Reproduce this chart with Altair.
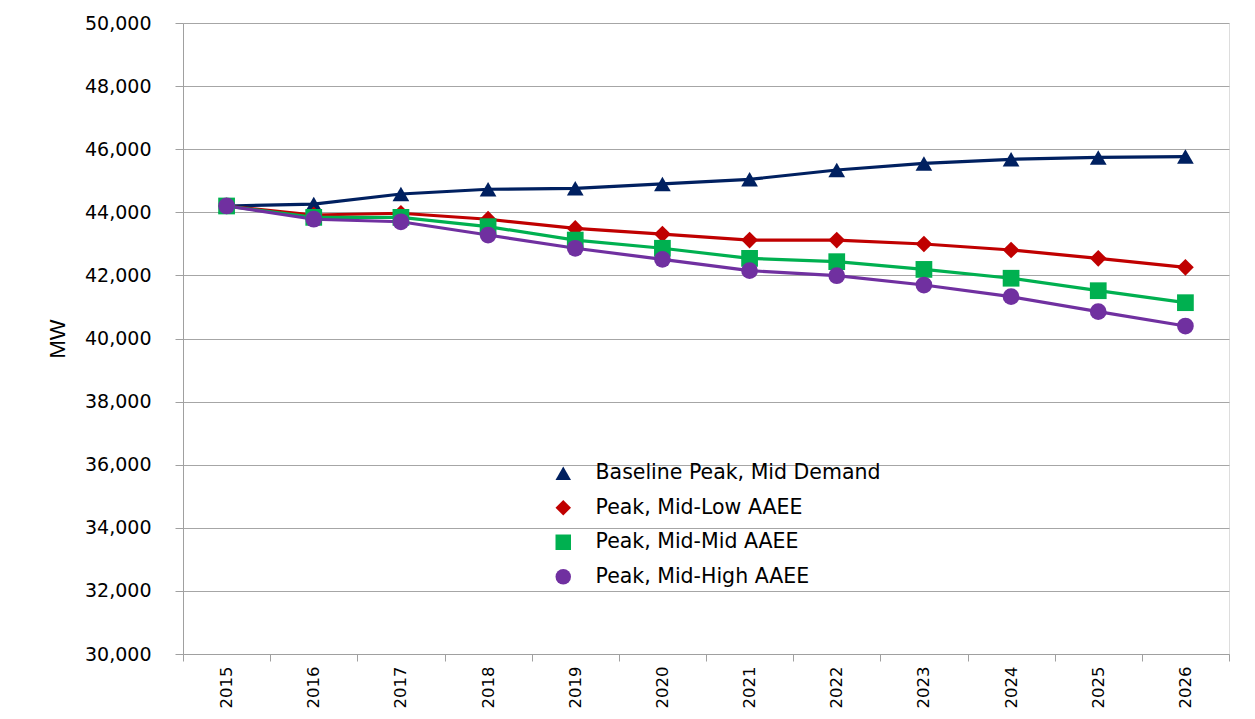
import altair as alt
import pandas as pd

years = [str(y) for y in range(2015, 2027)]
baseline = [44200, 44260, 44580, 44730, 44760, 44900, 45045, 45340, 45550, 45680, 45740, 45765]
mid_low = [44200, 43915, 43970, 43780, 43490, 43310, 43120, 43120, 42995, 42805, 42540, 42255]
mid_mid = [44200, 43840, 43840, 43545, 43120, 42860, 42540, 42435, 42190, 41910, 41515, 41135]
mid_high = [44200, 43780, 43700, 43280, 42860, 42510, 42150, 41990, 41695, 41325, 40850, 40395]

series_names = [
    "Baseline Peak, Mid Demand",
    "Peak, Mid-Low AAEE",
    "Peak, Mid-Mid AAEE",
    "Peak, Mid-High AAEE",
]
series_values = [baseline, mid_low, mid_mid, mid_high]
colors = ["#002060", "#C00000", "#00B050", "#7030A0"]
shapes = ["triangle-up", "diamond", "square", "circle"]

rows = []
for i, (name, vals) in enumerate(zip(series_names, series_values)):
    for y, v in zip(years, vals):
        rows.append({"Year": y, "MW": v, "Series": name, "order": i})
df = pd.DataFrame(rows)

legend_def = alt.Legend(
    title=None,
    orient="none",
    legendX=370,
    legendY=440,
    labelFont="DejaVu Sans",
    labelFontSize=20.5,
    labelColor="#000000",
    labelLimit=0,
    symbolSize=240,
    symbolStrokeWidth=0,
    rowPadding=13.5,
    labelOffset=22,
)

color = alt.Color("Series:N", scale=alt.Scale(domain=series_names, range=colors), legend=legend_def)
shape = alt.Shape("Series:N", scale=alt.Scale(domain=series_names, range=shapes), legend=legend_def)

x_enc = alt.X(
    "Year:O",
    sort=years,
    scale=alt.Scale(paddingInner=0, paddingOuter=0),
    axis=alt.Axis(
        title=None,
        labelAngle=270,
        labelFont="DejaVu Sans",
        labelFontSize=16.5,
        labelColor="#000000",
        labelPadding=5,
        tickBand="extent",
        tickSize=7,
        tickColor="#a0a0a0",
        domainColor="#a0a0a0",
        grid=False,
    ),
)
y_enc = alt.Y(
    "MW:Q",
    scale=alt.Scale(domain=[30000, 50000], nice=False),
    axis=alt.Axis(
        title="MW",
        titleFont="Liberation Sans",
        titleFontSize=22,
        titleFontWeight="normal",
        titleColor="#000000",
        titlePadding=15,
        values=list(range(30000, 50001, 2000)),
        format=",.0f",
        labelFont="DejaVu Sans",
        labelFontSize=19,
        labelColor="#000000",
        labelPadding=24,
        tickSize=8,
        tickColor="#a0a0a0",
        domainColor="#a0a0a0",
        gridColor="#a6a6a6",
        gridWidth=1,
    ),
)

lines = alt.Chart(df).mark_line(strokeWidth=3.2).encode(
    x=x_enc, y=y_enc, color=color, detail="Series:N", order="order:Q"
)
points = alt.Chart(df).mark_point(filled=True, size=280, opacity=1).encode(
    x=x_enc, y=y_enc, color=color, shape=shape
)

chart = (
    alt.layer(lines, points)
    .properties(
        width=1046,
        height=631,
        padding={"left": 175, "top": 15, "right": 16, "bottom": 56},
        autosize=alt.AutoSizeParams(type="none"),
    )
    .configure_view(stroke=None)
    .configure(background="white")
)

chart.save("out.html", embed_options={"renderer": "svg", "actions": False})
